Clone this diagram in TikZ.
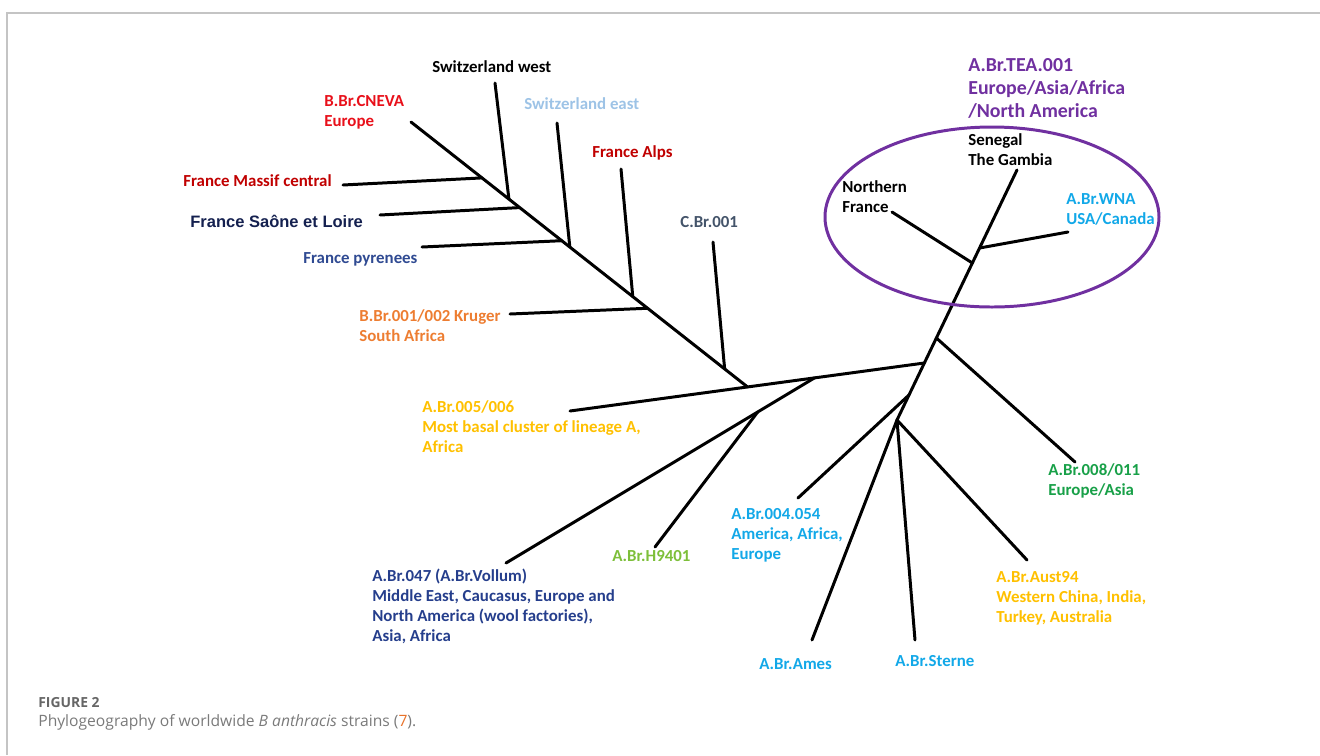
\documentclass[tikz,border=0pt]{standalone}
\usepackage{fontspec}
\setmainfont{Carlito}
\newfontfamily\arialfont{Liberation Sans}
\newfontfamily\figfont{Open Sans}
\usetikzlibrary{calc}
\definecolor{cnred}{HTML}{E8101A}
\definecolor{frred}{HTML}{C00000}
\definecolor{swblue}{HTML}{9DC3E6}
\definecolor{slnavy}{HTML}{14204F}
\definecolor{pyblue}{HTML}{2F4A92}
\definecolor{cbslate}{HTML}{44546A}
\definecolor{krorange}{HTML}{ED7D31}
\definecolor{agold}{HTML}{FFC000}
\definecolor{volblue}{HTML}{253E8C}
\definecolor{hgreen}{HTML}{7DBF3A}
\definecolor{acyan}{HTML}{12A8E8}
\definecolor{agreen}{HTML}{18A048}
\definecolor{teapurple}{HTML}{7030A0}
\definecolor{framegray}{HTML}{C4C4C4}
\definecolor{capgray}{HTML}{7A7A7A}
\definecolor{figgray}{HTML}{666666}
\definecolor{capor}{HTML}{E8722A}
\begin{document}
\begin{tikzpicture}[x=0.02cm,y=-0.02cm,
  branch/.style={line width=1.7pt,line cap=round},
  lbl/.style={font=\bfseries\fontsize{9.6}{11.3}\selectfont,anchor=base west,inner sep=0pt,align=left},
  biglbl/.style={font=\bfseries\fontsize{11.3}{13}\selectfont,anchor=base west,inner sep=0pt,align=left}]
  \useasboundingbox (0,0) rectangle (1320,755);
  %moldura
  \draw[framegray,line width=0.9pt] (7,755) -- (7,13) -- (1320,13);

  %tronco da linhagem A
  \coordinate (sen) at (1017,170);
  \coordinate (b0) at (897,420);
  \coordinate (t1) at ($(sen)!0.772!(b0)$);
  \coordinate (jwna) at ($(sen)!0.312!(b0)$);
  \coordinate (jnf) at ($(sen)!0.372!(b0)$);
  \coordinate (j008) at ($(sen)!0.672!(b0)$);
  \coordinate (j004) at ($(sen)!0.9!(b0)$);
  \coordinate (nf) at (892,212);
  \coordinate (wna) at (1068,232);
  \coordinate (a008) at (1075,462);
  \coordinate (a004) at (798,498);
  \coordinate (ames) at (812,640);
  \coordinate (sterne) at (915,640);
  \coordinate (aust) at (1027,560);

  \draw[branch] (sen) -- (b0);
  \draw[branch] (jwna) -- (wna);
  \draw[branch] (jnf) -- (nf);
  \draw[branch] (j008) -- (a008);
  \draw[branch] (j004) -- (a004);
  \draw[branch] (b0) -- (ames);
  \draw[branch] (b0) -- (sterne);
  \draw[branch] (b0) -- (aust);

  %linha basal
  \coordinate (a005) at (570,411);
  \coordinate (r0) at ($(a005)!0.501!(t1)$);
  \coordinate (jv) at ($(a005)!0.69!(t1)$);
  \coordinate (vol) at (506,563);
  \coordinate (jh) at ($(jv)!0.184!(vol)$);
  \coordinate (h94) at (655,547);

  \draw[branch] (a005) -- (t1);
  \draw[branch] (jv) -- (vol);
  \draw[branch] (jh) -- (h94);

  %linhagens B e C
  \coordinate (cneva) at (411,122);
  \coordinate (j1) at ($(cneva)!0.211!(r0)$);
  \coordinate (j2) at ($(cneva)!0.291!(r0)$);
  \coordinate (j3) at ($(cneva)!0.323!(r0)$);
  \coordinate (j4) at ($(cneva)!0.448!(r0)$);
  \coordinate (j5) at ($(cneva)!0.472!(r0)$);
  \coordinate (j6) at ($(cneva)!0.659!(r0)$);
  \coordinate (j7) at ($(cneva)!0.703!(r0)$);
  \coordinate (j8) at ($(cneva)!0.932!(r0)$);
  \coordinate (mc) at (343,185);
  \coordinate (sw) at (495,83);
  \coordinate (sl) at (380,215);
  \coordinate (py) at (422,247);
  \coordinate (se) at (557,123);
  \coordinate (al) at (621,169);
  \coordinate (kr) at (510,314);
  \coordinate (cb) at (713,242);

  \draw[branch] (cneva) -- (r0);
  \draw[branch] (j1) -- (mc);
  \draw[branch] (j2) -- (sw);
  \draw[branch] (j3) -- (sl);
  \draw[branch] (j4) -- (py);
  \draw[branch] (j5) -- (se);
  \draw[branch] (j6) -- (al);
  \draw[branch] (j7) -- (kr);
  \draw[branch] (j8) -- (cb);

  %elipse TEA
  \draw[teapurple,line width=1.7pt] (992,217) ellipse (167 and 90);

  %rotulos (base = linha de base da ultima linha)
  \node[lbl] (lsw) at (432,72) {Switzerland west};
  \node[lbl,text=cnred] (lcneva) at (324,126) {B.Br.CNEVA\\Europe};
  \node[lbl,text=swblue] (lse) at (524,109) {Switzerland east};
  \node[lbl,text=frred] (lal) at (592,157) {France Alps};
  \node[lbl,text=frred] (lmc) at (183,186) {France Massif central};
  \node[lbl,text=slnavy,font=\arialfont\bfseries\fontsize{9.4}{11}\selectfont] (lsl) at (190,227) {France Saône et Loire};
  \node[lbl,text=pyblue] (lpy) at (303,263) {France pyrenees};
  \node[lbl,text=cbslate] (lcb) at (680,227) {C.Br.001};
  \node[lbl,text=krorange] (lkr) at (359,341) {B.Br.001/002 Kruger\\South Africa};
  \node[lbl,text=agold] (la005) at (422,452) {A.Br.005/006\\Most basal cluster of lineage A,\\Africa};
  \node[lbl,text=volblue] (lvol) at (372,641) {A.Br.047 (A.Br.Vollum)\\Middle East, Caucasus, Europe and\\North America (wool factories),\\Asia, Africa};
  \node[lbl,text=hgreen] (lh94) at (612,561) {A.Br.H9401};
  \node[lbl,text=acyan] (la004) at (731,559) {A.Br.004.054\\America, Africa,\\Europe};
  \node[lbl,text=acyan] (lames) at (759,669) {A.Br.Ames};
  \node[lbl,text=acyan] (lsterne) at (895,666) {A.Br.Sterne};
  \node[lbl,text=agold] (laust) at (996,622) {A.Br.Aust94\\Western China, India,\\Turkey, Australia};
  \node[lbl,text=agreen] (la008) at (1048,495) {A.Br.008/011\\Europe/Asia};
  \node[lbl,text=acyan] (lwna) at (1066,224) {A.Br.WNA\\USA/Canada};
  \node[lbl] (lnf) at (842,212) {Northern\\France};
  \node[lbl] (lsen) at (968,165) {Senegal\\The Gambia};
  \node[biglbl,text=teapurple] (ltea) at (968,117) {A.Br.TEA.001\\Europe/Asia/Africa\\/North America};

  %legenda
  \node[anchor=base west,inner sep=0pt,text=figgray,font=\figfont\bfseries\fontsize{7.9}{9}\selectfont] (fig) at (38,707) {FIGURE 2};
  \node[anchor=base west,inner sep=0pt,text=capgray,font=\figfont\fontsize{8.9}{11}\selectfont] (cap) at (38,726) {Phylogeography of worldwide \textit{B anthracis} strains ({\color{capor}7}).};
\end{tikzpicture}
\end{document}
